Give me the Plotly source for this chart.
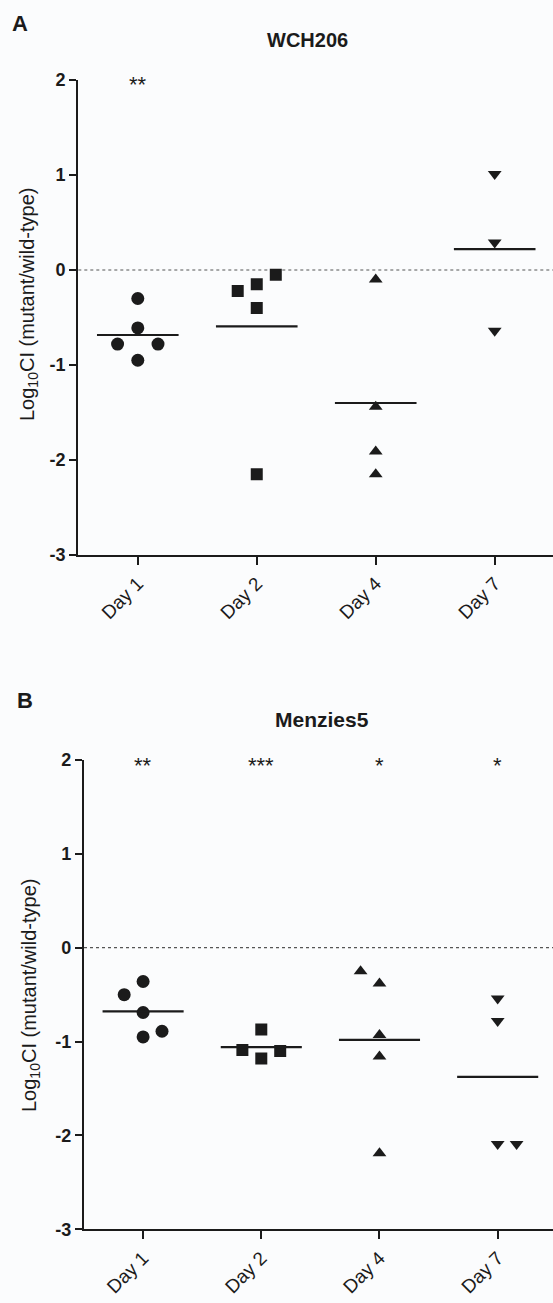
import numpy as np
import plotly.graph_objects as go

# ---------------- data ----------------
days = ["Day 1", "Day 2", "Day 4", "Day 7"]
symbols = ["circle", "square", "triangle-up", "triangle-down"]
ytick_vals = [-3, -2, -1, 0, 1, 2]
ytick_text = ["-3", "-2", "-1", "0", "1", "2"]

# Panel A: WCH206
a_day1 = [-0.30, -0.61, -0.78, -0.78, -0.95]
a_day2 = [-0.22, -0.15, -0.05, -0.40, -2.15]
a_day4 = [-0.10, -1.44, -1.91, -2.15]
a_day7 = [1.01, 0.29, -0.64]
a_spread1 = [0, 0, -0.17, 0.17, 0]
a_spread2 = [-0.16, 0, 0.16, 0, 0]
a_spread4 = [0, 0, 0, 0]
a_spread7 = [0, 0, 0]
a_sig = ["**", "", "", ""]

# Panel B: Menzies5
b_day1 = [-0.36, -0.50, -0.69, -0.95, -0.89]
b_day2 = [-0.87, -1.09, -1.18, -1.10]
b_day4 = [-0.25, -0.38, -0.93, -1.16, -2.19]
b_day7 = [-0.54, -0.78, -2.09, -2.09]
b_spread1 = [0, -0.16, 0, 0, 0.16]
b_spread2 = [0, -0.16, 0, 0.16]
b_spread4 = [-0.16, 0, 0, 0, 0]
b_spread7 = [0, 0, 0, 0.16]
b_sig = ["**", "***", "*", "*"]

panels = [
    dict(title="WCH206", letter="A", groups=[a_day1, a_day2, a_day4, a_day7],
         spreads=[a_spread1, a_spread2, a_spread4, a_spread7], sig=a_sig,
         xa="x", ya="y", tsize=20),
    dict(title="Menzies5", letter="B", groups=[b_day1, b_day2, b_day4, b_day7],
         spreads=[b_spread1, b_spread2, b_spread4, b_spread7], sig=b_sig,
         xa="x2", ya="y2", tsize=21),
]

W, H = 553, 1303
FONT = "Liberation Sans, Arial, sans-serif"
INK = "#1b1b1b"
BG = "#fbfcfd"
HALF = 0.343

fig = go.Figure()
for p in panels:
    for i, (vals, spr) in enumerate(zip(p["groups"], p["spreads"])):
        pos = i + 1
        fig.add_trace(go.Scatter(
            x=[pos + s for s in spr], y=vals, mode="markers",
            marker=dict(symbol=symbols[i], size=13 if i == 0 else 12, color=INK,
                        line=dict(width=0)),
            xaxis=p["xa"], yaxis=p["ya"], showlegend=False, hoverinfo="skip"))
        m = float(np.mean(vals))
        fig.add_trace(go.Scatter(
            x=[pos - HALF, pos + HALF], y=[m, m], mode="lines",
            line=dict(color=INK, width=2.2),
            xaxis=p["xa"], yaxis=p["ya"], showlegend=False, hoverinfo="skip"))


def px_x(v):
    return v / W


def px_y(v):
    return 1 - v / H


axis_common = dict(showgrid=False, zeroline=False, showline=True, linewidth=2.2,
                   linecolor=INK, ticks="outside", tickwidth=2, tickcolor=INK,
                   automargin=False)

xcommon = dict(axis_common, tickvals=[1, 2, 3, 4], ticktext=days, tickangle=-45,
               ticklen=8, tickfont=dict(family=FONT, size=19, color=INK))
ycommon = dict(axis_common, tickvals=ytick_vals, ticktext=ytick_text, range=[-3, 2],
               ticklen=7, tickfont=dict(family=FONT, size=18, color=INK, weight="bold"))

fig.update_layout(
    width=W, height=H, margin=dict(l=0, r=0, t=0, b=0),
    paper_bgcolor=BG, plot_bgcolor=BG, showlegend=False,
    xaxis=dict(xcommon, domain=[px_x(78.3), 1], range=[0.5, 4.49], anchor="y"),
    yaxis=dict(ycommon, domain=[px_y(555), px_y(80)], anchor="x"),
    xaxis2=dict(xcommon, domain=[px_x(84), 1], range=[0.5, 4.468], anchor="y2"),
    yaxis2=dict(ycommon, domain=[px_y(1229.3), px_y(760)], anchor="x2"),
)

# dotted zero lines
for xa, ya in [("x", "y"), ("x2", "y2")]:
    fig.add_shape(type="line", xref=f"{xa} domain", yref=ya, x0=0, x1=1, y0=0, y1=0,
                  line=dict(color="#555555", width=1.2, dash="dot"), layer="below")

# text
layout_px = [
    dict(letter=(20, 23), title=(307, 40), ytitle=(28, 305)),
    dict(letter=(25, 700), title=(322, 719), ytitle=(30, 996)),
]
for p, lp in zip(panels, layout_px):
    fig.add_annotation(text="<b>%s</b>" % p["letter"], xref="paper", yref="paper",
                       x=px_x(lp["letter"][0]), y=px_y(lp["letter"][1]),
                       xanchor="center", yanchor="middle",
                       showarrow=False, font=dict(family=FONT, size=22, color=INK))
    fig.add_annotation(text="<b>%s</b>" % p["title"], xref="paper", yref="paper",
                       x=px_x(lp["title"][0]), y=px_y(lp["title"][1]),
                       xanchor="center", yanchor="middle",
                       showarrow=False, font=dict(family=FONT, size=p["tsize"], color=INK))
    fig.add_annotation(text="Log<sub>10</sub>CI (mutant/wild-type)", xref="paper",
                       yref="paper", x=px_x(lp["ytitle"][0]), y=px_y(lp["ytitle"][1]),
                       xanchor="center", yanchor="middle",
                       textangle=-90, showarrow=False,
                       font=dict(family=FONT, size=20, color=INK))
    for i, s in enumerate(p["sig"]):
        if s:
            fig.add_annotation(text=s, xref=p["xa"], yref=p["ya"], x=i + 1, y=2,
                               xanchor="center", yanchor="middle",
                               yshift=-5, showarrow=False,
                               font=dict(family=FONT, size=22, color=INK))

fig.write_html("out.html", config={"displayModeBar": False},
               post_script="document.body.style.margin='0';")
